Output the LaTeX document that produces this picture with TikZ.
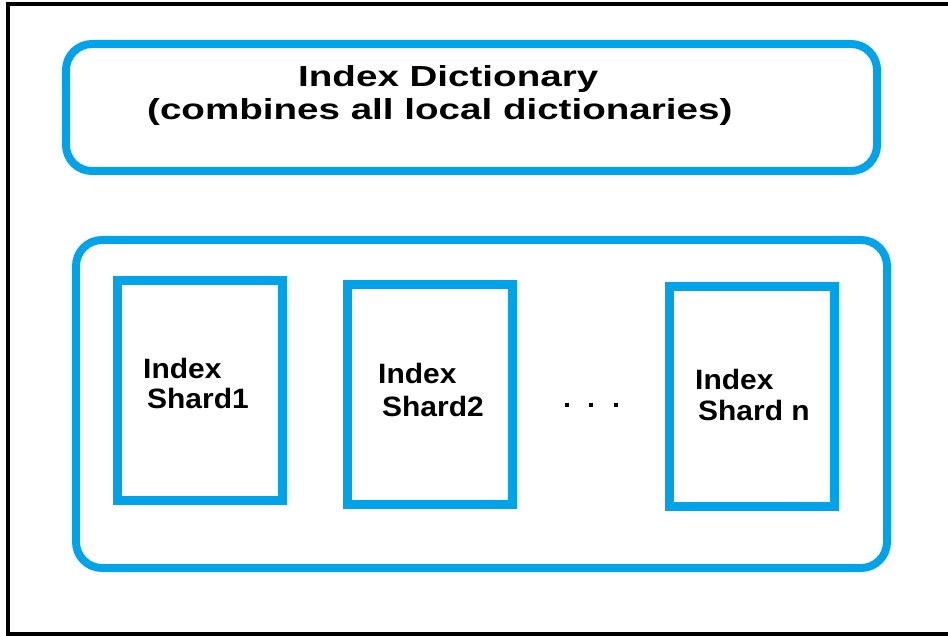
\documentclass[tikz,border=0pt]{standalone}
\usepackage{graphicx}
\usepackage{fontspec}
\setmainfont{Liberation Sans}
\definecolor{paintblue}{RGB}{0,162,232}
\tikzset{
  bigbox/.style={draw=paintblue, line width=8pt, rounded corners=26pt, inner sep=0pt, outer sep=0pt},
  shardbox/.style={draw=paintblue, line width=9pt, inner sep=0pt, outer sep=0pt, minimum width=165pt, minimum height=220pt},
  toptext/.style={anchor=base west, inner sep=0pt, font=\bfseries\fontsize{29}{29}\selectfont},
  shardtext/.style={anchor=base west, inner sep=0pt, font=\bfseries\fontsize{28}{28}\selectfont},
  dotbox/.style={fill=black, inner sep=0pt, minimum width=4pt, minimum height=4pt}
}
\begin{document}
\begin{tikzpicture}[x=1pt,y=-1pt]
\useasboundingbox (0,0) rectangle (948,636);
\fill[white] (0,0) rectangle (948,636);
\draw[line width=4pt] (8,4) rectangle (960,634);
% top dictionary box
\node[bigbox, minimum width=811pt, minimum height=127pt] (dict) at (471.5,107.5) {};
\node[toptext] (dictA) at (298,87) {\scalebox{1.33}[1]{Index Dictionary}};
\node[toptext] (dictB) at (147,120) {\scalebox{1.33}[1]{(combines all local dictionaries)}};
% container box
\node[bigbox, minimum width=811pt, minimum height=328pt] (cont) at (481.5,404) {};
% shards
\node[shardbox] (s1) at (200,390.5) {};
\node[shardbox] (s2) at (430,394.5) {};
\node[shardbox] (sn) at (752,396.5) {};
\node[shardtext] (s1a) at (143,378) {\scalebox{1.07}[1]{Index}};
\node[shardtext] (s1b) at (147,408) {\scalebox{1.07}[1]{Shard1}};
\node[shardtext] (s2a) at (378,383) {\scalebox{1.07}[1]{Index}};
\node[shardtext] (s2b) at (382,416) {\scalebox{1.07}[1]{Shard2}};
\node[shardtext] (sna) at (695,389) {\scalebox{1.07}[1]{Index}};
\node[shardtext] (snb) at (698,420) {\scalebox{1.07}[1]{Shard n}};
% dots
\node[dotbox] (d1) at (567,405) {};
\node[dotbox] (d2) at (591,405) {};
\node[dotbox] (d3) at (616,405) {};
\end{tikzpicture}
\end{document}
